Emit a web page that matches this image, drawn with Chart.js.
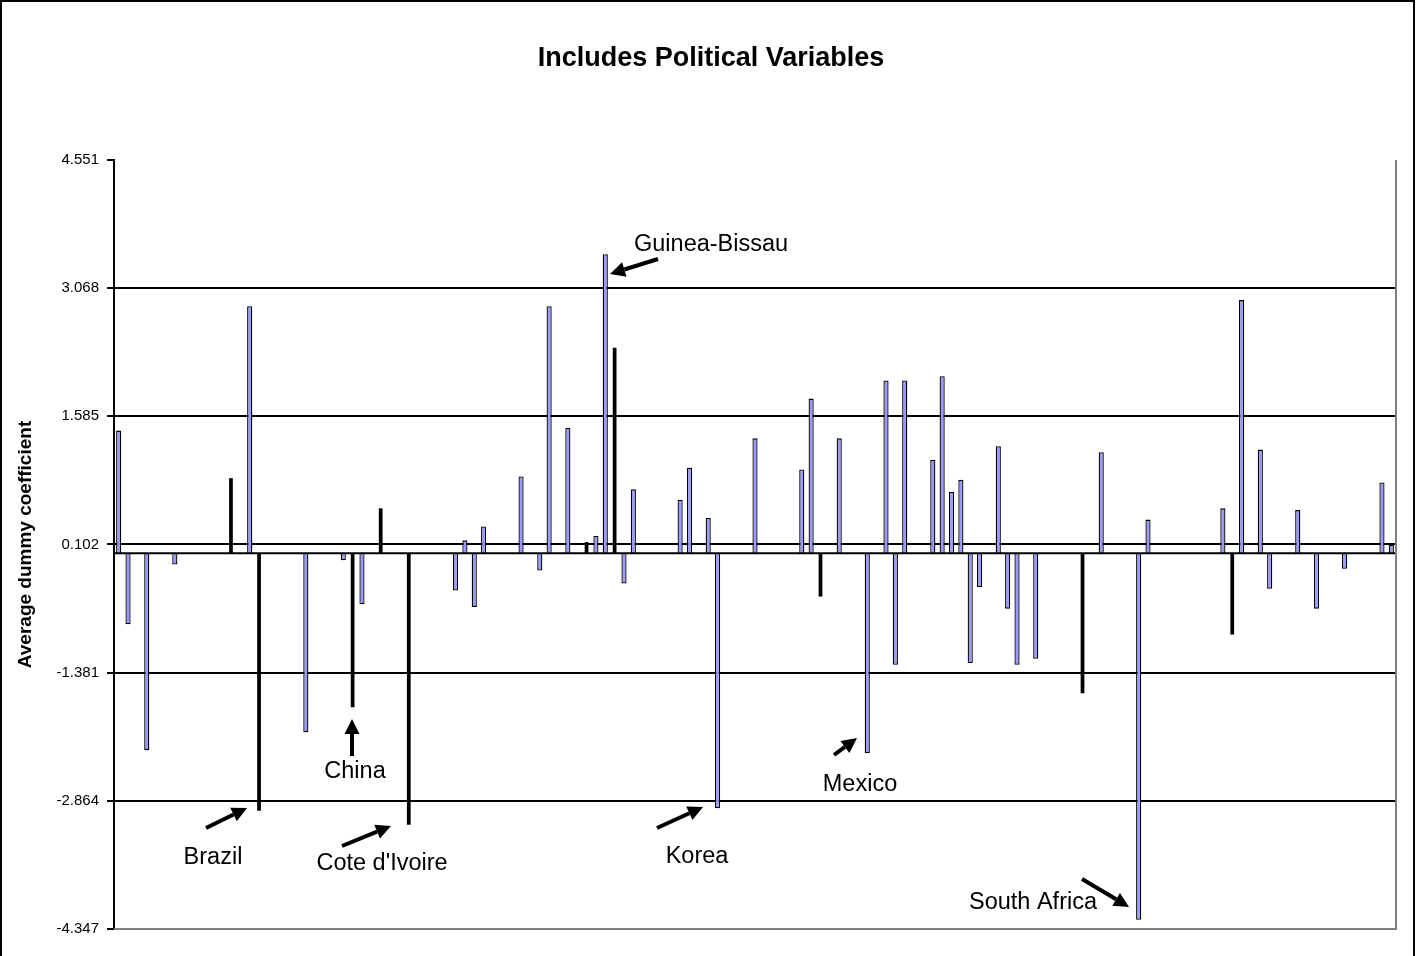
<!DOCTYPE html>
<html><head><meta charset="utf-8">
<script src="https://cdn.jsdelivr.net/npm/chart.js@4.4.0/dist/chart.umd.min.js"></script>
<style>html,body{margin:0;padding:0;background:#fff;}canvas{display:block;}</style>
</head><body>
<canvas id="c" width="1416" height="956"></canvas>
<script>
// 137 country slots (category axis, labels hidden in the original)
const categories = [
 '1','2','3','4','5','6','7','8','9','10','11','12','13','14','15','16','17','18','19','20',
 '21','22','23','24','25','26','27','28','29','30','31','32','33','34','35','36','37','38','39','40',
 '41','42','43','44','45','46','47','48','49','50','51','52','53','54','55','56','57','58','59','60',
 '61','62','63','64','65','66','67','68','69','70','71','72','73','74','75','76','77','78','79','80',
 '81','82','83','84','85','86','87','88','89','90','91','92','93','94','95','96','97','98','99','100',
 '101','102','103','104','105','106','107','108','109','110','111','112','113','114','115','116','117','118','119','120',
 '121','122','123','124','125','126','127','128','129','130','131','132','133','134','135','136','137'];

// Blue-filled bars (average dummy coefficient)
const blueSeries = [
  1.42, -0.82, null, -2.28, null, null, -0.13, null, null, null,
  null, null, null, null, 2.86, null, null, null, null, null,
  -2.07, null, null, null, -0.08, null, -0.59, null, null, null,
  null, null, null, null, null, null, -0.43, 0.15, -0.62, 0.31,
  null, null, null, 0.89, null, -0.20, 2.86, null, 1.45, null,
  null, 0.20, 3.46, null, -0.35, 0.74, null, null, null, null,
  0.62, 0.99, null, 0.41, -2.95, null, null, null, 1.33, null,
  null, null, null, 0.97, 1.79, null, null, 1.33, null, null,
  -2.31, null, 2.00, -1.29, 2.00, null, null, 1.08, 2.05, 0.71,
  0.85, -1.27, -0.39, null, 1.24, -0.64, -1.29, null, -1.22, null,
  null, null, null, null, null, 1.17, null, null, null, -4.24,
  0.39, null, null, null, null, null, null, null, 0.52, null,
  2.93, null, 1.20, -0.41, null, null, 0.50, null, -0.64, null,
  null, -0.18, null, null, null, 0.82, 0.10];

// Solid black bars
const blackSeries = [
  null, null, null, null, null, null, null, null, null, null,
  null, null, 0.87, null, null, -2.98, null, null, null, null,
  null, null, null, null, null, -1.78, null, null, 0.52, null,
  null, -3.14, null, null, null, null, null, null, null, null,
  null, null, null, null, null, null, null, null, null, null,
  0.13, null, null, 2.38, null, null, null, null, null, null,
  null, null, null, null, null, null, null, null, null, null,
  null, null, null, null, null, -0.50, null, null, null, null,
  null, null, null, null, null, null, null, null, null, null,
  null, null, null, null, null, null, null, null, null, null,
  null, null, null, -1.62, null, null, null, null, null, null,
  null, null, null, null, null, null, null, null, null, -0.94,
  null, null, null, null, null, null, null, null, null, null,
  null, null, null, null, null, null, null];

const tickValues = [-4.347, -2.864, -1.381, 0.102, 1.585, 3.068, 4.551];
const tickLabels = ['-4.347', '-2.864', '-1.381', '0.102', '1.585', '3.068', '4.551'];

const titleText = 'Includes Political Variables';
const yTitleText = 'Average dummy coefficient';

// text annotations with arrows (page pixels)
const annotations = [
  {text: 'Guinea-Bissau', tx: 634, ty: 245, align: 'left',   from: [658, 259], to: [610, 274]},
  {text: 'Brazil',        tx: 213, ty: 858, align: 'center', from: [206, 828], to: [247, 808]},
  {text: 'China',         tx: 355, ty: 772, align: 'center', from: [352, 756], to: [352, 719]},
  {text: "Cote d'Ivoire", tx: 382, ty: 864, align: 'center', from: [342, 846], to: [391, 826]},
  {text: 'Korea',         tx: 697, ty: 857, align: 'center', from: [657, 828], to: [703, 807]},
  {text: 'Mexico',        tx: 860, ty: 785, align: 'center', from: [834, 755], to: [857, 738]},
  {text: 'South Africa',  tx: 1033, ty: 903, align: 'center', from: [1082, 879], to: [1129, 907]}
];

const FONT = "'Liberation Sans', Arial, Helvetica, sans-serif";

const decorPlugin = {
  id: 'decor',
  afterDatasetsDraw(chart) {
    const {ctx, chartArea, scales} = chart;
    const y0 = scales.y.getPixelForValue(0);
    ctx.save();
    ctx.strokeStyle = '#000';
    ctx.lineWidth = 2;
    ctx.beginPath();
    ctx.moveTo(chartArea.left, y0);
    ctx.lineTo(chartArea.right, y0);
    ctx.stroke();
    // plot-area border (gray) right & bottom
    ctx.strokeStyle = '#808080';
    ctx.beginPath();
    ctx.moveTo(chartArea.left, chartArea.bottom);
    ctx.lineTo(chartArea.right, chartArea.bottom);
    ctx.lineTo(chartArea.right, chartArea.top);
    ctx.stroke();
    ctx.restore();
  },
  afterDraw(chart) {
    const ctx = chart.ctx;
    ctx.save();
    // outer frame
    ctx.strokeStyle = '#000';
    ctx.lineWidth = 2;
    ctx.strokeRect(1, 1, 1413, 980);
    // title
    ctx.fillStyle = '#000';
    ctx.font = 'bold 27px ' + FONT;
    ctx.textAlign = 'center';
    ctx.textBaseline = 'middle';
    ctx.fillText(titleText, 711, 59);
    // annotations
    ctx.font = '23.5px ' + FONT;
    annotations.forEach(a => {
      ctx.textAlign = a.align;
      ctx.fillText(a.text, a.tx, a.ty);
      const [x1, y1] = a.from, [x2, y2] = a.to;
      const ang = Math.atan2(y2 - y1, x2 - x1);
      const hl = 15, hw = 7.5;
      const bx = x2 - hl * Math.cos(ang), by = y2 - hl * Math.sin(ang);
      ctx.lineWidth = 4;
      ctx.beginPath();
      ctx.moveTo(x1, y1);
      ctx.lineTo(bx, by);
      ctx.stroke();
      ctx.beginPath();
      ctx.moveTo(x2, y2);
      ctx.lineTo(bx + hw * Math.sin(ang), by - hw * Math.cos(ang));
      ctx.lineTo(bx - hw * Math.sin(ang), by + hw * Math.cos(ang));
      ctx.closePath();
      ctx.fill();
    });
    ctx.restore();
  }
};

new Chart(document.getElementById('c').getContext('2d'), {
  type: 'bar',
  data: {
    labels: categories,
    datasets: [
      {label: 'blue', data: blueSeries, backgroundColor: '#9999FF', borderColor: '#000',
       borderWidth: 1.3, barPercentage: 0.55, categoryPercentage: 1, grouped: false},
      {label: 'black', data: blackSeries, backgroundColor: '#000', borderColor: '#000',
       borderWidth: 0, barPercentage: 0.4, categoryPercentage: 1, grouped: false}
    ]
  },
  options: {
    responsive: false,
    animation: false,
    devicePixelRatio: 1,
    layout: {padding: {left: 0, right: 20, top: 160, bottom: 27}},
    plugins: {legend: {display: false}, tooltip: {enabled: false}, title: {display: false}},
    scales: {
      x: {display: false, offset: true},
      y: {
        min: -4.347, max: 4.551,
        afterFit(s) { s.width = 114; },
        afterBuildTicks(s) { s.ticks = tickValues.map(v => ({value: v})); },
        ticks: {
          callback: (v, i) => tickLabels[i],
          font: {family: FONT, size: 15},
          color: '#000',
          padding: 8
        },
        grid: {
          color: c => (c.index === 0 || c.index === tickValues.length - 1) ? 'rgba(0,0,0,0)' : '#000',
          lineWidth: 2,
          tickColor: '#000',
          tickLength: 7,
          drawTicks: true
        },
        border: {display: true, color: '#000', width: 2},
        title: {
          display: true, text: yTitleText, color: '#000',
          font: {family: FONT, size: 19, weight: 'bold'},
          padding: {top: 14, bottom: 0}
        }
      }
    }
  },
  plugins: [decorPlugin]
});
</script>
</body></html>
